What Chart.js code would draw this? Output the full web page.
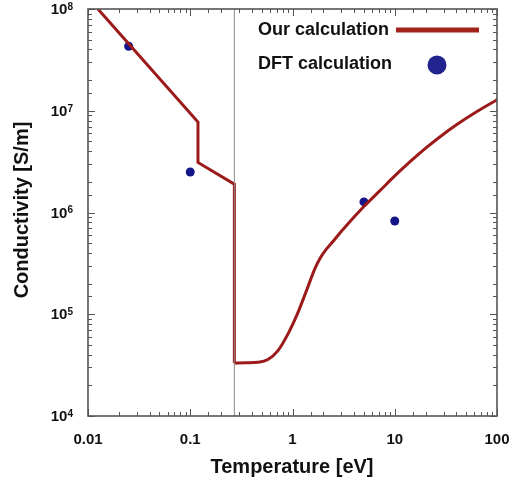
<!DOCTYPE html>
<html>
<head>
<meta charset="utf-8">
<script src="https://cdn.jsdelivr.net/npm/chart.js@4"></script>
<style>
  body { margin: 0; background: #fff; }
  #wrap { width: 515px; height: 485px; }
</style>
</head>
<body>
<div id="wrap"><canvas id="myChart"></canvas></div>
<script>
// our calculation, low temperature branch (piecewise)
const calcLowT = [0.0125, 0.119, 0.119, 0.27, 0.27];
const calcLowS = [1.0e8, 7.75e6, 3.1e6, 1.9e6, 3.32e4];
// our calculation, high temperature branch (smooth)
const calcHighT = [0.27, 0.355, 0.457, 0.575, 0.724, 0.912, 1.122, 1.38, 1.66, 1.862, 2.089, 2.512, 3.162, 5.012, 7.079, 10, 14.13, 19.95, 28.18, 39.81, 63.1, 100];
const calcHighS = [3.32e4, 3.33e4, 3.37e4, 3.59e4, 4.42e4, 6.53e4, 1.02e5, 1.74e5, 2.82e5, 3.55e5, 4.22e5, 5.25e5, 6.92e5, 1.15e6, 1.62e6, 2.29e6, 3.16e6, 4.27e6, 5.62e6, 7.24e6, 9.77e6, 1.28e7];
// DFT points
const dftT = [0.025, 0.1, 5, 10];
const dftS = [4.3e7, 2.5e6, 1.27e6, 8.25e5];
// vertical marker
const markerT = 0.27;
const yRange = [1e4, 1e8];
const xTickLabels = ['0.01', '0.1', '1', '10', '100'];
const yTickExps = ['4', '5', '6', '7', '8'];

const lineColor = '#9c1a1a';
const dotColor = '#15158a';
const FONT = '"Liberation Sans", Arial, sans-serif';

const pts = (xs, ys) => xs.map((x, i) => ({ x: x, y: ys[i] }));
const isDecade = v => Math.abs(Math.log10(v) - Math.round(Math.log10(v))) < 1e-6;

const frame = {
  id: 'frame',
  afterDraw(chart) {
    const c = chart.ctx, a = chart.chartArea;
    const xs = chart.scales.x, ys = chart.scales.y;
    c.save();
    c.strokeStyle = '#555';
    c.lineWidth = 1;
    xs.ticks.forEach(t => {
      const p = Math.round(xs.getPixelForValue(t.value)) + 0.5;
      const l = isDecade(t.value) ? 7 : 4;
      c.beginPath();
      c.moveTo(p, a.bottom); c.lineTo(p, a.bottom - l);
      c.moveTo(p, a.top); c.lineTo(p, a.top + l);
      c.stroke();
    });
    ys.ticks.forEach(t => {
      const p = Math.round(ys.getPixelForValue(t.value)) + 0.5;
      const l = isDecade(t.value) ? 7 : 4;
      c.beginPath();
      c.moveTo(a.left, p); c.lineTo(a.left + l, p);
      c.moveTo(a.right, p); c.lineTo(a.right - l, p);
      c.stroke();
    });
    c.lineWidth = 1.6;
    c.strokeRect(a.left, a.top, a.right - a.left, a.bottom - a.top);

    // tick labels
    c.fillStyle = '#111';
    c.font = 'bold 15px ' + FONT;
    c.textAlign = 'center';
    c.textBaseline = 'middle';
    xTickLabels.forEach(s => {
      c.fillText(s, xs.getPixelForValue(parseFloat(s)), 440);
    });
    yTickExps.forEach(e => {
      const y = ys.getPixelForValue(Math.pow(10, +e));
      c.font = 'bold 10px ' + FONT;
      const ew = c.measureText(e).width;
      c.font = 'bold 15px ' + FONT;
      const w = c.measureText('10').width;
      const x0 = 73 - ew - w;
      c.textAlign = 'left';
      c.textBaseline = 'middle';
      c.fillText('10', x0, y + 1);
      c.font = 'bold 10px ' + FONT;
      c.textBaseline = 'top';
      c.fillText(e, x0 + w, y - 7);
    });

    // axis titles
    c.font = 'bold 20px ' + FONT;
    c.textAlign = 'center';
    c.textBaseline = 'middle';
    c.fillText('Temperature [eV]', 292, 467);
    c.save();
    c.translate(22, 210);
    c.rotate(-Math.PI / 2);
    c.fillText('Conductivity [S/m]', 0, 0);
    c.restore();

    // legend
    c.font = 'bold 18px ' + FONT;
    c.textAlign = 'left';
    c.fillText('Our calculation', 258, 30);
    c.fillText('DFT calculation', 258, 64);
    c.strokeStyle = '#a3241c';
    c.lineWidth = 5;
    c.beginPath();
    c.moveTo(396, 30); c.lineTo(479, 30);
    c.stroke();
    c.fillStyle = '#23238f';
    c.beginPath();
    c.arc(437, 65, 9.5, 0, Math.PI * 2);
    c.fill();
    c.restore();
  }
};

new Chart(document.getElementById('myChart'), {
  type: 'scatter',
  data: {
    datasets: [
      {
        label: 'marker',
        data: pts([markerT, markerT], yRange),
        showLine: true,
        borderColor: '#8a8a8a',
        borderWidth: 1,
        pointRadius: 0
      },
      {
        label: 'Our calculation',
        data: pts(calcLowT, calcLowS),
        showLine: true,
        borderColor: lineColor,
        borderWidth: 3,
        borderJoinStyle: 'miter',
        tension: 0,
        pointRadius: 0
      },
      {
        label: 'Our calculation (high T)',
        data: pts(calcHighT, calcHighS),
        showLine: true,
        borderColor: lineColor,
        borderWidth: 3,
        cubicInterpolationMode: 'monotone',
        pointRadius: 0
      },
      {
        label: 'DFT calculation',
        data: pts(dftT, dftS),
        backgroundColor: dotColor,
        borderWidth: 0,
        pointRadius: 4.5
      }
    ]
  },
  options: {
    responsive: true,
    maintainAspectRatio: false,
    animation: false,
    layout: { padding: { top: 9, right: 18, left: 0, bottom: 0 } },
    plugins: { legend: { display: false }, tooltip: { enabled: false } },
    scales: {
      x: {
        type: 'logarithmic',
        min: 0.01,
        max: 100,
        grid: { display: false, drawTicks: false },
        border: { display: false },
        ticks: { display: false, autoSkip: false },
        afterFit: s => { s.height = 69; }
      },
      y: {
        type: 'logarithmic',
        min: yRange[0],
        max: yRange[1],
        grid: { display: false, drawTicks: false },
        border: { display: false },
        ticks: { display: false, autoSkip: false },
        afterFit: s => { s.width = 88; }
      }
    }
  },
  plugins: [frame]
});
</script>
</body>
</html>
